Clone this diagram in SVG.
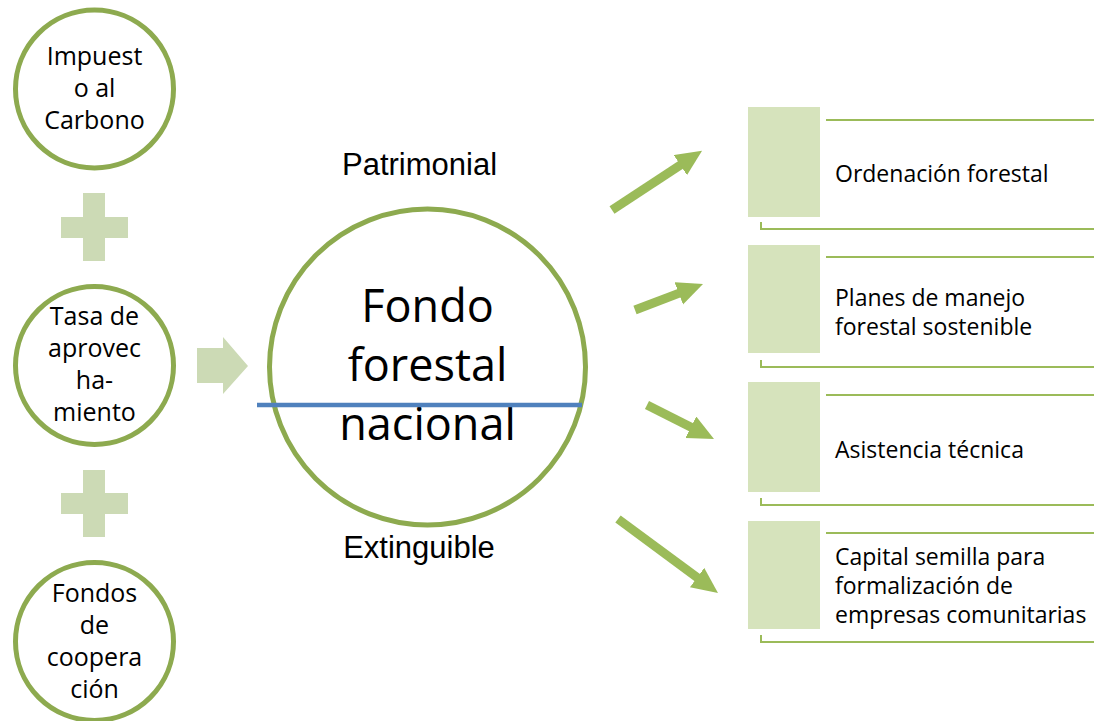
<svg xmlns="http://www.w3.org/2000/svg" width="1094" height="721" viewBox="0 0 1094 721">
  <style>
    .ring { fill: #FFFFFF; stroke: #8DAA4F; stroke-width: 5; }
    .soft { fill: #CCDAB5; }
    .box { fill: #D6E3BC; }
    .rule { fill: none; stroke: #9BBB59; stroke-width: 2; }
    .arrow { fill: none; stroke: #9BBB59; stroke-width: 9; marker-end: url(#head); }
    .src { font-family: "Open Sans", "DejaVu Sans", sans-serif; font-size: 25px; fill: #000; text-anchor: middle; }
    .big { font-family: "Open Sans", "DejaVu Sans", sans-serif; font-size: 45px; fill: #000; text-anchor: middle; }
    .lbl { font-family: "Liberation Sans", Arial, sans-serif; font-size: 31px; fill: #000; text-anchor: middle; }
    .item { font-family: "Open Sans", "DejaVu Sans", sans-serif; font-size: 23px; fill: #000; }
  </style>
  <defs>
    <marker id="head" markerUnits="userSpaceOnUse" markerWidth="28" markerHeight="26" refX="2" refY="12" orient="auto">
      <path d="M0,0 L26,12 L0,24 Z" fill="#9BBB59"/>
    </marker>
  </defs>
  <rect width="1094" height="721" fill="#FFFFFF"/>

  <g id="impuesto">
    <circle class="ring" cx="94.5" cy="89" r="79"/>
    <text class="src" x="94.5" y="65">Impuest</text>
    <text class="src" x="94.5" y="97">o al</text>
    <text class="src" x="94.5" y="129">Carbono</text>
  </g>
  <g id="plus1">
    <path class="soft" d="M83,193 H105 V217 H128 V238 H105 V261 H83 V238 H61 V217 H83 Z"/>
  </g>
  <g id="tasa">
    <circle class="ring" cx="94.5" cy="365.5" r="79"/>
    <text class="src" x="94.5" y="325">Tasa de</text>
    <text class="src" x="94.5" y="357">aprovec</text>
    <text class="src" x="94.5" y="389">ha-</text>
    <text class="src" x="94.5" y="421">miento</text>
  </g>
  <g id="plus2">
    <path class="soft" d="M83,470 H105 V493 H128 V514 H105 V537 H83 V514 H61 V493 H83 Z"/>
  </g>
  <g id="fondos">
    <circle class="ring" cx="94.5" cy="641.5" r="79"/>
    <text class="src" x="94.5" y="602">Fondos</text>
    <text class="src" x="94.5" y="634">de</text>
    <text class="src" x="94.5" y="666">coopera</text>
    <text class="src" x="94.5" y="698">ción</text>
  </g>
  <g id="chevron">
    <polygon class="soft" points="197,348 223,348 223,337 248,366 223,394 223,383 197,383"/>
  </g>

  <g id="fondo-forestal">
    <circle class="ring" cx="427.5" cy="367" r="158"/>
    <text class="big" x="427.5" y="322">Fondo</text>
    <text class="big" x="427.5" y="381">forestal</text>
    <text class="big" x="427.5" y="440">nacional</text>
    <line x1="257" y1="405" x2="582" y2="405" stroke="#4F81BD" stroke-width="4.5"/>
  </g>
  <g id="patrimonial">
    <text class="lbl" x="419.5" y="175">Patrimonial</text>
  </g>
  <g id="extinguible">
    <text class="lbl" x="419" y="558">Extinguible</text>
  </g>

  <g id="connectors">
    <line class="arrow" x1="612" y1="210" x2="682" y2="164"/>
    <line class="arrow" x1="635" y1="310" x2="680.6" y2="292.6"/>
    <line class="arrow" x1="647" y1="405" x2="692.6" y2="428.1"/>
    <line class="arrow" x1="618" y1="519" x2="698.7" y2="578.7"/>
  </g>

  <g id="ordenacion">
    <rect class="box" x="748" y="107" width="72" height="110"/>
    <path class="rule" d="M826,120 H1094"/>
    <path class="rule" d="M761,222 V229 H1094"/>
    <text class="item" x="835" y="182">Ordenación forestal</text>
  </g>
  <g id="planes">
    <rect class="box" x="748" y="245" width="72" height="108"/>
    <path class="rule" d="M826,257 H1094"/>
    <path class="rule" d="M761,360 V367 H1094"/>
    <text class="item" x="835" y="306">Planes de manejo</text>
    <text class="item" x="835" y="335">forestal sostenible</text>
  </g>
  <g id="asistencia">
    <rect class="box" x="748" y="382" width="72" height="110"/>
    <path class="rule" d="M826,395 H1094"/>
    <path class="rule" d="M761,498 V505 H1094"/>
    <text class="item" x="835" y="458">Asistencia técnica</text>
  </g>
  <g id="capital">
    <rect class="box" x="748" y="521" width="72" height="108"/>
    <path class="rule" d="M826,533 H1094"/>
    <path class="rule" d="M761,635 V642 H1094"/>
    <text class="item" x="835" y="565">Capital semilla para</text>
    <text class="item" x="835" y="594">formalización de</text>
    <text class="item" x="835" y="623">empresas comunitarias</text>
  </g>
</svg>
